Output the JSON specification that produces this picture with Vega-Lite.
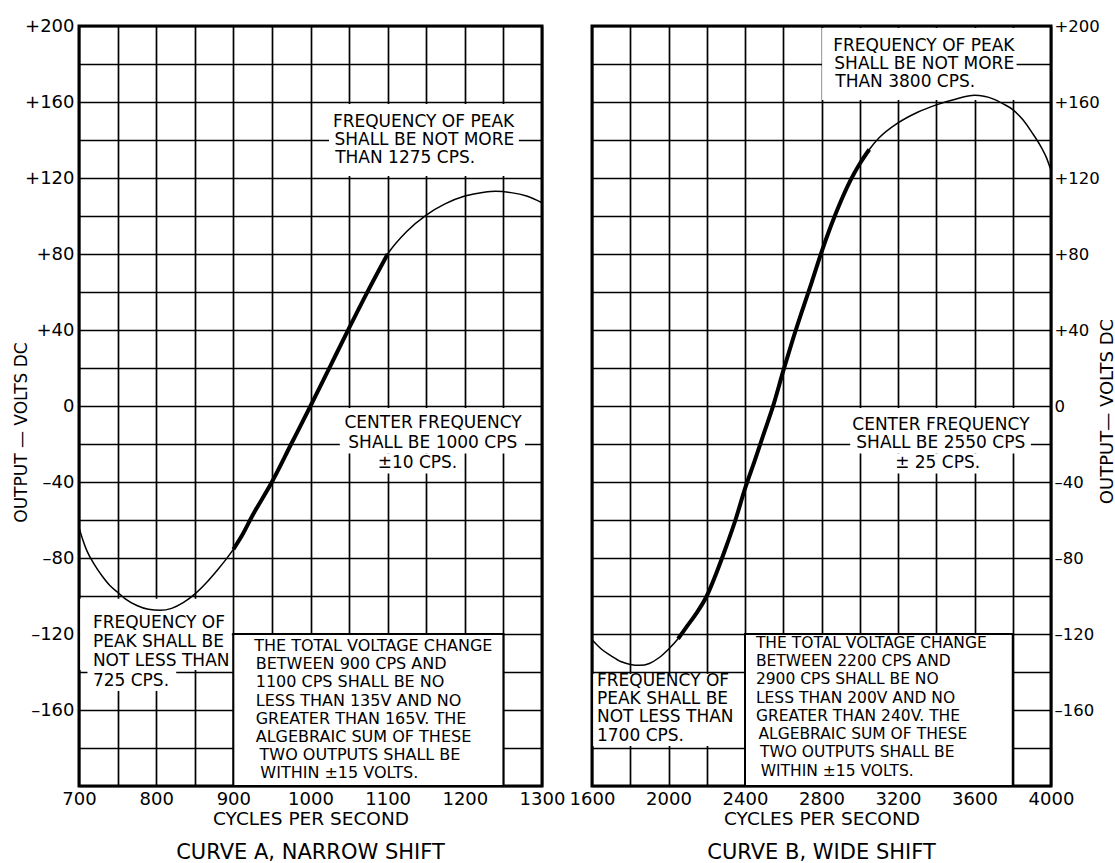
{
  "$schema": "https://vega.github.io/schema/vega-lite/v6.json",
  "background": "white",
  "padding": {"left": 10, "top": 15, "right": 0, "bottom": 0},
  "spacing": 50,
  "bounds": "flush",
  "config": {
    "font": "DejaVu Sans",
    "view": {"stroke": "black", "strokeWidth": 3},
    "axis": {
      "gridColor": "black", "gridOpacity": 1, "gridWidth": 1.7,
      "domain": false, "ticks": false,
      "labelColor": "black", "labelFont": "DejaVu Sans",
      "labelOverlap": false, "labelFlush": false, "labelBound": false,
      "titleColor": "black", "titleFont": "DejaVu Sans", "titleFontWeight": "normal"
    },
    "title": {"color": "black", "font": "DejaVu Sans", "fontWeight": "normal"}
  },
  "datasets": {
    "curveA": [
      {"f": 700, "v": -64}, {"f": 705, "v": -70.5}, {"f": 710, "v": -76}, {"f": 720, "v": -83.5},
      {"f": 730, "v": -89.5}, {"f": 740, "v": -94.5}, {"f": 750, "v": -98}, {"f": 760, "v": -101.5},
      {"f": 775, "v": -105}, {"f": 790, "v": -107}, {"f": 805, "v": -107.5}, {"f": 820, "v": -106.5},
      {"f": 835, "v": -103.5}, {"f": 850, "v": -99}, {"f": 865, "v": -93}, {"f": 880, "v": -86},
      {"f": 890, "v": -81}, {"f": 900, "v": -75.5}, {"f": 910, "v": -69}, {"f": 925, "v": -57.5},
      {"f": 950, "v": -40}, {"f": 975, "v": -20}, {"f": 1000, "v": 0}, {"f": 1025, "v": 20.5},
      {"f": 1050, "v": 41}, {"f": 1075, "v": 61}, {"f": 1100, "v": 80}, {"f": 1125, "v": 92},
      {"f": 1150, "v": 100.5}, {"f": 1175, "v": 106.5}, {"f": 1200, "v": 110.5}, {"f": 1225, "v": 112.5},
      {"f": 1240, "v": 113}, {"f": 1260, "v": 112.3}, {"f": 1280, "v": 110.5}, {"f": 1300, "v": 107}
    ],
    "curveB": [
      {"f": 1600, "v": -123}, {"f": 1650, "v": -128}, {"f": 1700, "v": -131.5}, {"f": 1750, "v": -134.5},
      {"f": 1800, "v": -136}, {"f": 1850, "v": -136.5}, {"f": 1900, "v": -135.5}, {"f": 1950, "v": -132.5},
      {"f": 2000, "v": -128}, {"f": 2050, "v": -122.5}, {"f": 2100, "v": -115.5}, {"f": 2150, "v": -108.5},
      {"f": 2200, "v": -100}, {"f": 2250, "v": -88}, {"f": 2300, "v": -74.5}, {"f": 2350, "v": -60},
      {"f": 2400, "v": -43.5}, {"f": 2450, "v": -29}, {"f": 2500, "v": -14}, {"f": 2550, "v": 1},
      {"f": 2600, "v": 18.5}, {"f": 2650, "v": 35}, {"f": 2700, "v": 50.5}, {"f": 2750, "v": 65.5},
      {"f": 2800, "v": 81}, {"f": 2850, "v": 95}, {"f": 2900, "v": 107.5}, {"f": 2950, "v": 118.5},
      {"f": 3000, "v": 127.5}, {"f": 3050, "v": 135}, {"f": 3100, "v": 141}, {"f": 3200, "v": 149},
      {"f": 3300, "v": 154.5}, {"f": 3400, "v": 158.5}, {"f": 3500, "v": 161.5}, {"f": 3600, "v": 163.5},
      {"f": 3700, "v": 161.5}, {"f": 3750, "v": 159}, {"f": 3800, "v": 156}, {"f": 3850, "v": 151},
      {"f": 3900, "v": 144}, {"f": 3950, "v": 136}, {"f": 3975, "v": 131}, {"f": 4000, "v": 124}
    ],
    "boxesA": [
      {"f": 1024, "f2": 1270, "v": 121, "v2": 159},
      {"f": 1038, "f2": 1278, "v": -1, "v2": -25},
      {"f": 1082, "f2": 1196, "v": -25, "v2": -35.5},
      {"f": 701.5, "f2": 898, "v": -101.5, "v2": -139},
      {"f": 711, "f2": 826, "v": -139, "v2": -150}
    ],
    "framesA": [{"f": 900, "f2": 1250, "v": -200, "v2": -120}],
    "notesA": [
      {"f": 1029, "v": 149.5, "t": "FREQUENCY OF PEAK"},
      {"f": 1031, "v": 140, "t": "SHALL BE NOT MORE"},
      {"f": 1032, "v": 130.5, "t": "THAN 1275 CPS."},
      {"f": 1044, "v": -9, "t": "CENTER FREQUENCY"},
      {"f": 1049, "v": -19.5, "t": "SHALL BE 1000 CPS"},
      {"f": 1087, "v": -30, "t": "±10 CPS."},
      {"f": 718, "v": -114, "t": "FREQUENCY OF"},
      {"f": 718, "v": -124, "t": "PEAK SHALL BE"},
      {"f": 718, "v": -134, "t": "NOT LESS THAN"},
      {"f": 718, "v": -144.5, "t": "725 CPS."}
    ],
    "boxTextA": [
      {"f": 927, "v": -126.5, "t": "THE TOTAL VOLTAGE CHANGE"},
      {"f": 929, "v": -136, "t": "BETWEEN 900 CPS AND"},
      {"f": 929, "v": -145.5, "t": "1100 CPS SHALL BE NO"},
      {"f": 929, "v": -155, "t": "LESS THAN 135V AND NO"},
      {"f": 929, "v": -164.5, "t": "GREATER THAN 165V. THE"},
      {"f": 929, "v": -174, "t": "ALGEBRAIC SUM OF THESE"},
      {"f": 934, "v": -183.5, "t": "TWO OUTPUTS SHALL BE"},
      {"f": 935, "v": -193, "t": "WITHIN  ±15 VOLTS."}
    ],
    "boxesB": [
      {"f": 2803, "f2": 3820, "v": 161, "v2": 199},
      {"f": 2950, "f2": 3895, "v": -1, "v2": -25},
      {"f": 3170, "f2": 3640, "v": -25, "v2": -35.5},
      {"f": 1606, "f2": 2397, "v": -141, "v2": -179}
    ],
    "framesB": [{"f": 2400, "f2": 3800, "v": -200, "v2": -120}],
    "notesB": [
      {"f": 2861, "v": 189.5, "t": "FREQUENCY OF PEAK"},
      {"f": 2867, "v": 180, "t": "SHALL BE NOT MORE"},
      {"f": 2872, "v": 170.5, "t": "THAN 3800 CPS."},
      {"f": 2961, "v": -10, "t": "CENTER FREQUENCY"},
      {"f": 2982, "v": -19.5, "t": "SHALL BE 2550 CPS"},
      {"f": 3185, "v": -30, "t": "± 25 CPS."},
      {"f": 1626, "v": -144.5, "t": "FREQUENCY OF"},
      {"f": 1626, "v": -154.2, "t": "PEAK SHALL BE"},
      {"f": 1626, "v": -163.9, "t": "NOT LESS THAN"},
      {"f": 1626, "v": -173.6, "t": "1700 CPS."}
    ],
    "boxTextB": [
      {"f": 2457, "v": -124.7, "t": "THE TOTAL VOLTAGE CHANGE"},
      {"f": 2457, "v": -134.3, "t": "BETWEEN 2200 CPS AND"},
      {"f": 2457, "v": -143.9, "t": "2900 CPS SHALL BE NO"},
      {"f": 2457, "v": -153.5, "t": "LESS THAN 200V AND NO"},
      {"f": 2457, "v": -163.1, "t": "GREATER THAN 240V. THE"},
      {"f": 2470, "v": -172.7, "t": "ALGEBRAIC SUM OF THESE"},
      {"f": 2478, "v": -182.3, "t": "TWO OUTPUTS SHALL BE"},
      {"f": 2482, "v": -191.9, "t": "WITHIN  ±15 VOLTS."}
    ]
  },
  "hconcat": [
    {
      "width": 463,
      "height": 760,
      "title": {"text": "CURVE A, NARROW SHIFT", "orient": "bottom", "anchor": "middle", "fontSize": 21, "offset": 14},
      "encoding": {
        "x": {
          "field": "f", "type": "quantitative",
          "scale": {"domain": [700, 1300], "nice": false, "zero": false},
          "axis": {
            "values": [700, 750, 800, 850, 900, 950, 1000, 1050, 1100, 1150, 1200, 1250, 1300],
            "labelExpr": "datum.value % 100 == 0 ? '' + datum.value : ''",
            "labelFontSize": 18, "labelPadding": 4,
            "title": "CYCLES PER SECOND", "titleFontSize": 18.5, "titlePadding": 1
          }
        },
        "y": {
          "field": "v", "type": "quantitative",
          "scale": {"domain": [-200, 200], "nice": false, "zero": false},
          "axis": {
            "values": [-200, -180, -160, -140, -120, -100, -80, -60, -40, -20, 0, 20, 40, 60, 80, 100, 120, 140, 160, 180, 200],
            "labelExpr": "datum.value % 40 == 0 && datum.value > -200 ? (datum.value > 0 ? '+' + datum.value : (datum.value < 0 ? '–' + abs(datum.value) : '0')) : ''",
            "labelFontSize": 18, "labelPadding": 5,
            "title": "OUTPUT — VOLTS DC", "titleFontSize": 17,
            "titleX": -58, "titleY": 406, "titleAlign": "center", "titleBaseline": "middle", "titleAngle": 270
          }
        }
      },
      "layer": [
        {
          "data": {"name": "boxesA"},
          "mark": {"type": "rect", "fill": "white", "strokeWidth": 0},
          "encoding": {"x2": {"field": "f2"}, "y2": {"field": "v2"}}
        },
        {
          "data": {"name": "framesA"},
          "mark": {"type": "rect", "fill": "white", "stroke": "black", "strokeWidth": 2},
          "encoding": {"x2": {"field": "f2"}, "y2": {"field": "v2"}}
        },
        {
          "data": {"name": "curveA"},
          "mark": {"type": "line", "color": "black", "strokeWidth": 1.5, "interpolate": "monotone"}
        },
        {
          "data": {"name": "curveA"},
          "transform": [{"filter": "datum.f >= 900 && datum.f <= 1100"}],
          "mark": {"type": "line", "color": "black", "strokeWidth": 4, "interpolate": "monotone"}
        },
        {
          "data": {"name": "notesA"},
          "mark": {"type": "text", "align": "left", "baseline": "middle", "fontSize": 17, "color": "black"},
          "encoding": {"text": {"field": "t"}}
        },
        {
          "data": {"name": "boxTextA"},
          "mark": {"type": "text", "align": "left", "baseline": "middle", "fontSize": 16, "color": "black"},
          "encoding": {"text": {"field": "t"}}
        }
      ]
    },
    {
      "width": 459,
      "height": 760,
      "title": {"text": "CURVE B, WIDE SHIFT", "orient": "bottom", "anchor": "middle", "fontSize": 21, "offset": 14},
      "encoding": {
        "x": {
          "field": "f", "type": "quantitative",
          "scale": {"domain": [1600, 4000], "nice": false, "zero": false},
          "axis": {
            "values": [1600, 1800, 2000, 2200, 2400, 2600, 2800, 3000, 3200, 3400, 3600, 3800, 4000],
            "labelExpr": "datum.value % 400 == 0 ? '' + datum.value : ''",
            "labelFontSize": 18, "labelPadding": 4,
            "title": "CYCLES PER SECOND", "titleFontSize": 18.5, "titlePadding": 1
          }
        },
        "y": {
          "field": "v", "type": "quantitative",
          "scale": {"domain": [-200, 200], "nice": false, "zero": false},
          "axis": {
            "orient": "right",
            "values": [-200, -180, -160, -140, -120, -100, -80, -60, -40, -20, 0, 20, 40, 60, 80, 100, 120, 140, 160, 180, 200],
            "labelExpr": "datum.value % 40 == 0 && datum.value > -200 ? (datum.value > 0 ? '+' + datum.value : (datum.value < 0 ? '–' + abs(datum.value) : '0')) : ''",
            "labelFontSize": 16.5, "labelPadding": 3,
            "title": "OUTPUT— VOLTS DC", "titleFontSize": 18,
            "titleX": 56, "titleY": 385, "titleAlign": "center", "titleBaseline": "middle", "titleAngle": 270
          }
        }
      },
      "layer": [
        {
          "data": {"name": "boxesB"},
          "mark": {"type": "rect", "fill": "white", "strokeWidth": 0},
          "encoding": {"x2": {"field": "f2"}, "y2": {"field": "v2"}}
        },
        {
          "data": {"name": "framesB"},
          "mark": {"type": "rect", "fill": "white", "stroke": "black", "strokeWidth": 2},
          "encoding": {"x2": {"field": "f2"}, "y2": {"field": "v2"}}
        },
        {
          "data": {"name": "curveB"},
          "mark": {"type": "line", "color": "black", "strokeWidth": 1.5, "interpolate": "monotone"}
        },
        {
          "data": {"name": "curveB"},
          "transform": [{"filter": "datum.f >= 2050 && datum.f <= 3050"}],
          "mark": {"type": "line", "color": "black", "strokeWidth": 4, "interpolate": "monotone"}
        },
        {
          "data": {"name": "notesB"},
          "mark": {"type": "text", "align": "left", "baseline": "middle", "fontSize": 17, "color": "black"},
          "encoding": {"text": {"field": "t"}}
        },
        {
          "data": {"name": "boxTextB"},
          "mark": {"type": "text", "align": "left", "baseline": "middle", "fontSize": 15.5, "color": "black"},
          "encoding": {"text": {"field": "t"}}
        }
      ]
    }
  ]
}
